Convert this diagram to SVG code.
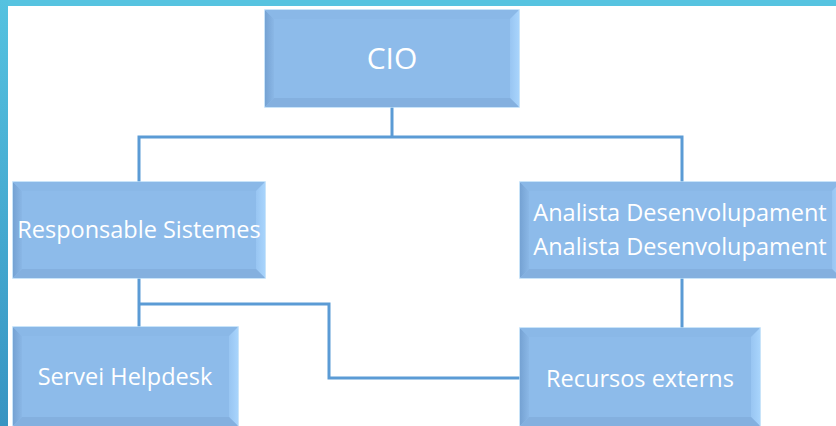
<svg xmlns="http://www.w3.org/2000/svg" width="836" height="426" viewBox="0 0 836 426">
<defs>
<linearGradient id="sideBar" x1="0" y1="0" x2="0" y2="1">
<stop offset="0" stop-color="#55c2e0"/>
<stop offset="1" stop-color="#3794c2"/>
</linearGradient>
<linearGradient id="leftBev" x1="0" y1="0" x2="1" y2="0">
<stop offset="0" stop-color="#75a2d3"/>
<stop offset="1" stop-color="#8ab7e6"/>
</linearGradient>
<linearGradient id="rightBev" x1="0" y1="0" x2="1" y2="0">
<stop offset="0" stop-color="#98c5f2"/>
<stop offset="1" stop-color="#a8d4fc"/>
</linearGradient>
</defs>
<style>
.box{fill:#8dbbea;stroke:#b8dbf8;stroke-width:1.5}
.bl{fill:url(#leftBev)}
.bt{fill:#8ab8e7}
.br{fill:url(#rightBev)}
.bb{fill:#84b0df}
.lbl{fill:#ffffff;font-family:"Open Sans","DejaVu Sans",sans-serif;font-size:23.5px;text-anchor:middle}
.conn{fill:none;stroke:#5b9bd5;stroke-width:3}
</style>
<rect x="0" y="0" width="836" height="426" fill="#ffffff"/>
<rect x="0" y="0" width="836" height="6" fill="#56c3e0"/>
<rect x="0" y="0" width="8" height="426" fill="url(#sideBar)"/>
<g id="connectors">
<path class="conn" d="M392,107 V137"/>
<path class="conn" d="M139,182 V137 H682 V182"/>
<path class="conn" d="M139,278 V327"/>
<path class="conn" d="M139,304 H329 V378 H520"/>
<path class="conn" d="M682,278 V328"/>
</g>
<g id="cio">
<rect class="box" x="265" y="10" width="254" height="97"/>
<polygon class="bl" points="265,10 274,19 274,98 265,107"/>
<polygon class="bt" points="265,10 519,10 510,19 274,19"/>
<polygon class="br" points="519,10 519,107 510,98 510,19"/>
<polygon class="bb" points="265,107 274,98 510,98 519,107"/>
<text class="lbl" x="392" y="69" style="font-size:30px">CIO</text>
</g>
<g id="responsable">
<rect class="box" x="13" y="182" width="252" height="96"/>
<polygon class="bl" points="13,182 22,191 22,269 13,278"/>
<polygon class="bt" points="13,182 265,182 256,191 22,191"/>
<polygon class="br" points="265,182 265,278 256,269 256,191"/>
<polygon class="bb" points="13,278 22,269 256,269 265,278"/>
<text class="lbl" x="139" y="238">Responsable Sistemes</text>
</g>
<g id="analista">
<rect class="box" x="520" y="182" width="321" height="96"/>
<polygon class="bl" points="520,182 529,191 529,269 520,278"/>
<polygon class="bt" points="520,182 841,182 832,191 529,191"/>
<polygon class="br" points="841,182 841,278 832,269 832,191"/>
<polygon class="bb" points="520,278 529,269 832,269 841,278"/>
<text class="lbl" x="680" y="221">Analista Desenvolupament</text>
<text class="lbl" x="680" y="255">Analista Desenvolupament</text>
</g>
<g id="helpdesk">
<rect class="box" x="13" y="327" width="225" height="99"/>
<polygon class="bl" points="13,327 22,336 22,417 13,426"/>
<polygon class="bt" points="13,327 238,327 229,336 22,336"/>
<polygon class="br" points="238,327 238,426 229,417 229,336"/>
<polygon class="bb" points="13,426 22,417 229,417 238,426"/>
<text class="lbl" x="125" y="385">Servei Helpdesk</text>
</g>
<g id="recursos">
<rect class="box" x="520" y="328" width="240" height="98"/>
<polygon class="bl" points="520,328 529,337 529,417 520,426"/>
<polygon class="bt" points="520,328 760,328 751,337 529,337"/>
<polygon class="br" points="760,328 760,426 751,417 751,337"/>
<polygon class="bb" points="520,426 529,417 751,417 760,426"/>
<text class="lbl" x="640" y="387">Recursos externs</text>
</g>
</svg>
